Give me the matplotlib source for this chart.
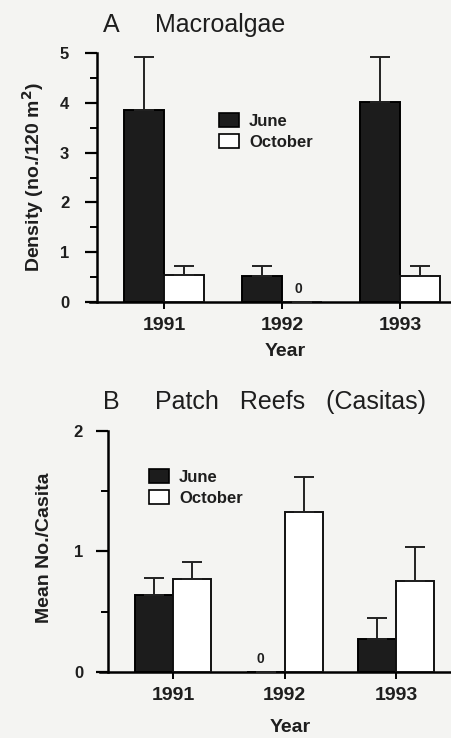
import numpy as np
import matplotlib
matplotlib.use("Agg")
import matplotlib.pyplot as plt
from matplotlib.patches import Patch

plt.rcParams['font.family'] = ['Liberation Sans', 'DejaVu Sans']

# data
years = ['1991', '1992', '1993']
algae_june = [3.85, 0.52, 4.02]
algae_june_err = [1.07, 0.21, 0.90]
algae_oct = [0.54, 0.0, 0.52]
algae_oct_err = [0.19, 0.0, 0.21]

reef_june = [0.64, 0.0, 0.27]
reef_june_err = [0.14, 0.0, 0.18]
reef_oct = [0.77, 1.33, 0.75]
reef_oct_err = [0.14, 0.29, 0.29]

W, H = 452, 738
BG = '#f4f4f2'
DARK = '#1c1c1c'
INK = '#1e1e1e'


def fx(x):
    return x / W


def fy(y):
    return 1 - y / H


fig = plt.figure(figsize=(W / 100, H / 100), dpi=100, facecolor=BG)


def panel(rect, june, june_err, octo, octo_err, ymax, xl, xr, spine_x):
    ax = fig.add_axes(rect)
    ax.set_facecolor('none')
    x = np.arange(len(years))
    w = 0.34
    ax.bar(x - w / 2, june, w, color=DARK, edgecolor='black', linewidth=1.4,
           yerr=[np.zeros(3), june_err], capsize=7,
           error_kw=dict(elinewidth=1.4, capthick=1.4, ecolor='#222222'), zorder=3)
    ax.bar(x + w / 2, octo, w, color='white', edgecolor='#111111', linewidth=1.4,
           yerr=[np.zeros(3), octo_err], capsize=7,
           error_kw=dict(elinewidth=1.4, capthick=1.4, ecolor='#222222'), zorder=3)
    # zero-height bars get a small "0"
    for i in range(3):
        if june[i] == 0:
            ax.text(x[i] - w / 2 - 0.05, 0.025 * ymax, '0', ha='center', va='bottom',
                    fontsize=10, fontweight='bold', color=INK)
        if octo[i] == 0:
            ax.text(x[i] + w / 2 - 0.03, 0.025 * ymax, '0', ha='center', va='bottom',
                    fontsize=10, fontweight='bold', color=INK)
    ax.set_xlim(xl, xr)
    ax.set_ylim(0, ymax)
    for s in ['top', 'right']:
        ax.spines[s].set_visible(False)
    ax.spines['left'].set_position(('data', spine_x))
    ax.spines['left'].set_linewidth(1.8)
    ax.spines['bottom'].set_linewidth(1.8)
    ax.set_xticks(x)
    ax.set_xticklabels(years, fontsize=14, fontweight='bold', color=INK)
    ax.set_yticks(np.arange(0, ymax + 1))
    ax.set_yticks(np.arange(0.5, ymax, 1.0), minor=True)
    for lab in ax.get_yticklabels():
        lab.set_fontweight('bold')
        lab.set_color(INK)
    ax.tick_params(axis='x', length=5, width=1.4, pad=6)
    ax.tick_params(axis='y', which='major', length=9, width=1.6, labelsize=12)
    ax.tick_params(axis='y', which='minor', length=5, width=1.4)
    ax.tick_params(axis='x', which='minor', length=0)
    return ax


# panel A
axA = panel([fx(90), fy(302), 1 - fx(90), (302 - 53) / H],
            algae_june, algae_june_err, algae_oct, algae_oct_err,
            5, -0.627, 2.44, -0.568)
axA.tick_params(axis='y', which='major', pad=11)
# panel B
axB = panel([fx(100), fy(671.7), 1 - fx(100), (671.7 - 431) / H],
            reef_june, reef_june_err, reef_oct, reef_oct_err,
            2, -0.655, 2.50, -0.583)
axB.tick_params(axis='y', which='major', pad=9)

# titles
fig.text(fx(103), fy(25), 'A', fontsize=18, va='center', color=INK)
fig.text(fx(155), fy(25), 'Macroalgae', fontsize=18, va='center', color=INK)
fig.text(fx(103), fy(402), 'B', fontsize=18, va='center', color=INK)
fig.text(fx(155), fy(402), 'Patch   Reefs   (Casitas)', fontsize=18, va='center', color=INK)

# axis labels
fig.text(fx(33), fy(177), 'Density (no./120 m$^\\mathbf{2}$)', fontsize=14, rotation=90,
         ha='center', va='center', fontweight='bold', color=INK)
fig.text(fx(285), fy(351), 'Year', fontsize=14, ha='center', va='center',
         fontweight='bold', color=INK)
fig.text(fx(45), fy(548), 'Mean No./Casita', fontsize=14, rotation=90,
         ha='center', va='center', fontweight='bold', color=INK)
fig.text(fx(290), fy(728), 'Year', fontsize=14, ha='center', va='center',
         fontweight='bold', color=INK)

# legends
handles = [Patch(facecolor=DARK, edgecolor='black', linewidth=1.2, label='June'),
           Patch(facecolor='white', edgecolor='black', linewidth=1.2, label='October')]
for anchor in [(fx(219), fy(113)), (fx(149), fy(469))]:
    leg = fig.legend(handles=handles, loc='upper left', bbox_to_anchor=anchor,
                     frameon=False, prop={'size': 12, 'weight': 'bold'},
                     handlelength=1.2, handleheight=0.9, handletextpad=0.6,
                     labelspacing=0.35, borderpad=0, borderaxespad=0)
    for t in leg.get_texts():
        t.set_color(INK)

fig.savefig('out.png', dpi=100, facecolor=BG)
